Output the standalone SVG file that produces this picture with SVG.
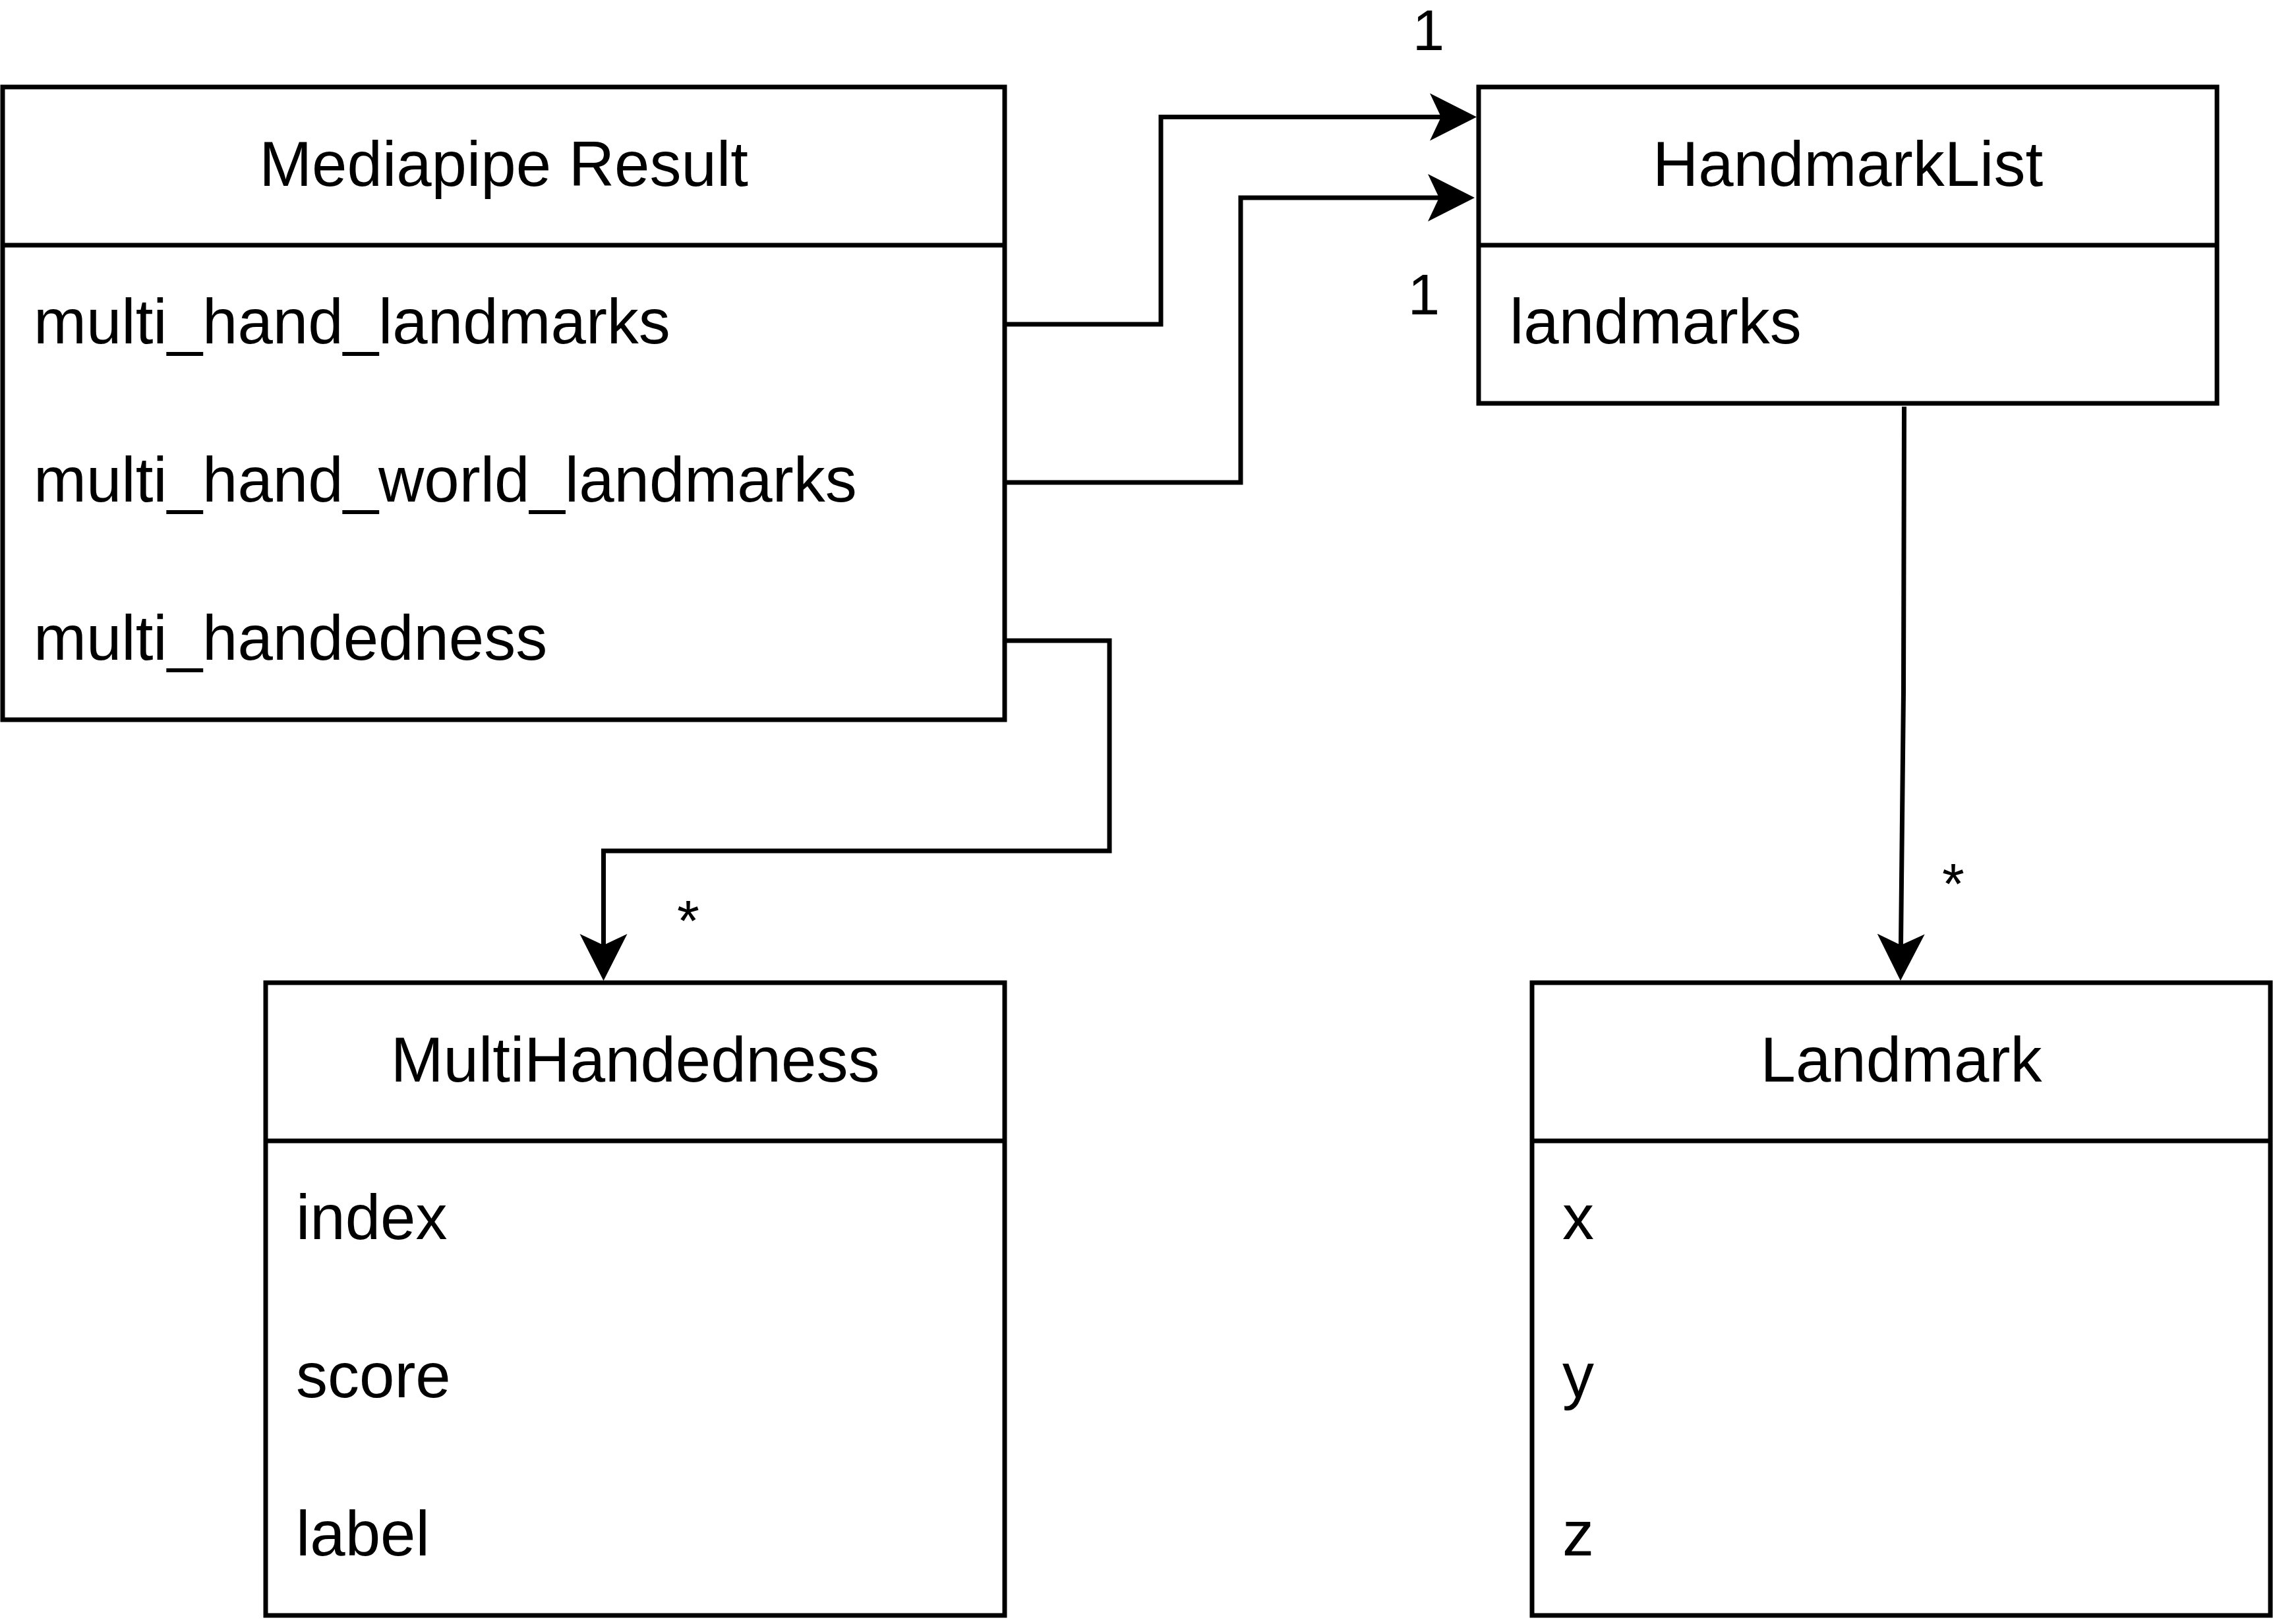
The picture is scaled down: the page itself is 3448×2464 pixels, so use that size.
<svg xmlns="http://www.w3.org/2000/svg" width="3448" height="2464" viewBox="0 0 3448 2464">
<style>
.box{fill:#ffffff;stroke:#000000;stroke-width:7}
.sep{stroke:#000000;stroke-width:7}
.conn{fill:none;stroke:#000000;stroke-width:7;stroke-linejoin:miter}
.title{font-family:"Liberation Sans",Arial,Helvetica,sans-serif;font-size:96px;fill:#000000;text-anchor:middle}
.attr{font-family:"Liberation Sans",Arial,Helvetica,sans-serif;font-size:96px;fill:#000000}
.lbl{font-family:"Liberation Sans",Arial,Helvetica,sans-serif;font-size:87px;fill:#000000;text-anchor:middle}
</style>
<defs>
<marker id="arrow" markerUnits="userSpaceOnUse" viewBox="0 -40 75 80" refX="17" refY="0" markerWidth="75" markerHeight="80" orient="auto">
<path d="M0,-36 L71,0 L0,36 L17,0 Z" fill="#000000"/>
</marker>
</defs>
<rect width="3448" height="2464" fill="#ffffff"/>
<g id="connectors">
<path class="conn" d="M1524,492 H1761 V177.5 H2186" marker-end="url(#arrow)"/>
<path class="conn" d="M1524,732 H1882 V300 H2183" marker-end="url(#arrow)"/>
<path class="conn" d="M1524,972 H1683 V1291 H915.5 V1434" marker-end="url(#arrow)"/>
<path class="conn" d="M2888.5,617 L2887.5,1050 L2883.5,1434" marker-end="url(#arrow)"/>
<text class="lbl" x="2167" y="76">1</text>
<text class="lbl" x="2160" y="477">1</text>
<text class="lbl" x="1044" y="1427">*</text>
<text class="lbl" x="2963" y="1371">*</text>
</g>
<g id="mediapipe-result">
<rect class="box" x="4" y="132" width="1520" height="960"/>
<line class="sep" x1="4" y1="372" x2="1524" y2="372"/>
<text class="title" x="764" y="282">Mediapipe Result</text>
<text class="attr" x="51" y="521">multi_hand_landmarks</text>
<text class="attr" x="51" y="761">multi_hand_world_landmarks</text>
<text class="attr" x="51" y="1001">multi_handedness</text>
</g>
<g id="handmarklist">
<rect class="box" x="2243" y="132" width="1120" height="480"/>
<line class="sep" x1="2243" y1="372" x2="3363" y2="372"/>
<text class="title" x="2803" y="282">HandmarkList</text>
<text class="attr" x="2290" y="521">landmarks</text>
</g>
<g id="multihandedness">
<rect class="box" x="403" y="1491" width="1121" height="960"/>
<line class="sep" x1="403" y1="1731" x2="1524" y2="1731"/>
<text class="title" x="963.5" y="1641">MultiHandedness</text>
<text class="attr" x="449" y="1880">index</text>
<text class="attr" x="449" y="2120">score</text>
<text class="attr" x="449" y="2360">label</text>
</g>
<g id="landmark">
<rect class="box" x="2324" y="1491" width="1120" height="960"/>
<line class="sep" x1="2324" y1="1731" x2="3444" y2="1731"/>
<text class="title" x="2884" y="1641">Landmark</text>
<text class="attr" x="2370" y="1880">x</text>
<text class="attr" x="2370" y="2120">y</text>
<text class="attr" x="2370" y="2360">z</text>
</g>
</svg>
